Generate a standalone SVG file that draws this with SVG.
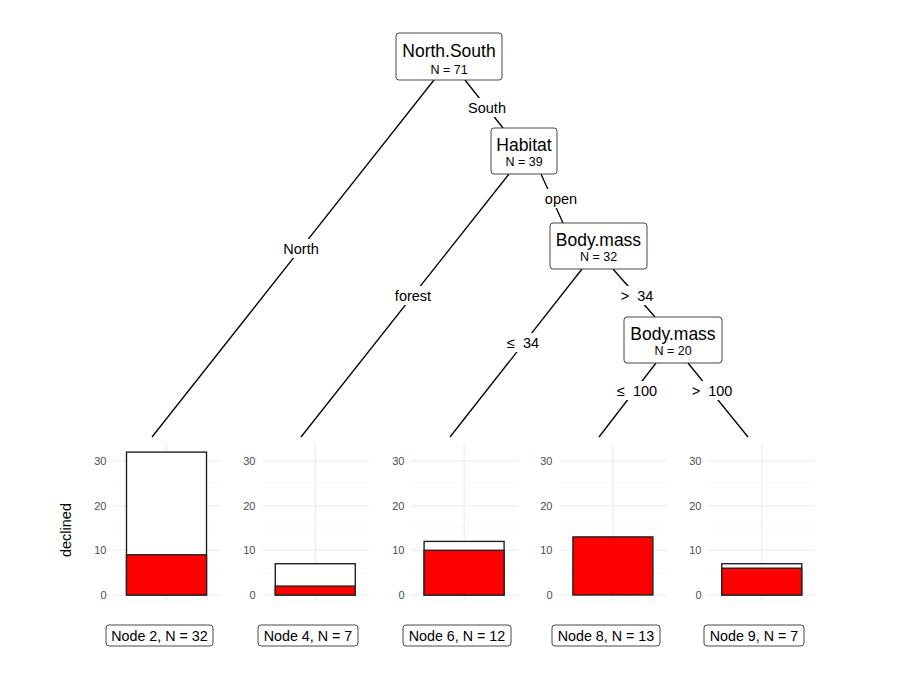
<svg xmlns="http://www.w3.org/2000/svg" width="900" height="700" viewBox="0 0 900 700">
<style>
text{font-family:"Liberation Sans",Arial,sans-serif;fill:#000}
.nb{fill:#fff;stroke:#333;stroke-width:0.9}
.t1{font-size:17.5px;text-anchor:middle}
.t2{font-size:12.5px;text-anchor:middle}
.el{font-size:14.5px;text-anchor:middle;white-space:pre}
.lb{fill:#fff}
.e{stroke:#000;stroke-width:1.3;fill:none}
.gM{stroke:#ebebeb;stroke-width:1.1}
.gm{stroke:#f3f3f3;stroke-width:0.6}
.tk{font-size:11px;fill:#4d4d4d;text-anchor:end}
.bw{fill:#fff;stroke:#222;stroke-width:1.4}
.br{fill:#ff0000;stroke:#222;stroke-width:1.4}
.leaf{font-size:14.3px;text-anchor:middle}
</style>
<rect width="900" height="700" fill="#fff"/>
<g id="connectors">
<line class="e" x1="434" y1="80" x2="152" y2="437"/>
<line class="e" x1="465" y1="80" x2="503" y2="128"/>
<line class="e" x1="509" y1="174" x2="301" y2="437"/>
<line class="e" x1="541" y1="174" x2="563" y2="223"/>
<line class="e" x1="582" y1="269" x2="450" y2="437"/>
<line class="e" x1="613" y1="269" x2="655" y2="317"/>
<line class="e" x1="656" y1="363" x2="599" y2="437"/>
<line class="e" x1="688" y1="363" x2="748" y2="437"/>
<rect class="lb" x="278" y="239" width="46" height="19"/><text class="el" x="301" y="254">North</text>
<rect class="lb" x="464" y="98" width="46" height="19"/><text class="el" x="487" y="113">South</text>
<rect class="lb" x="390" y="286" width="46" height="19"/><text class="el" x="413" y="301">forest</text>
<rect class="lb" x="541" y="189" width="40" height="19"/><text class="el" x="561" y="204">open</text>
<rect class="lb" x="503" y="333" width="40" height="19"/><text class="el" x="523" y="348">≤  34</text>
<rect class="lb" x="617" y="286" width="40" height="19"/><text class="el" x="637" y="301">&gt;  34</text>
<rect class="lb" x="612" y="381" width="50" height="19"/><text class="el" x="637" y="396">≤  100</text>
<rect class="lb" x="687" y="381" width="50" height="19"/><text class="el" x="712" y="396">&gt;  100</text>
</g>
<g id="node1"><rect class="nb" x="396" y="33" width="106" height="47" rx="3"/><text class="t1" x="449" y="56.5">North.South</text><text class="t2" x="449" y="73.5">N = 71</text></g>
<g id="node3"><rect class="nb" x="491" y="128" width="66" height="46" rx="3"/><text class="t1" x="524" y="150.5">Habitat</text><text class="t2" x="524" y="166">N = 39</text></g>
<g id="node5"><rect class="nb" x="550" y="223" width="97" height="46" rx="3"/><text class="t1" x="598.5" y="246">Body.mass</text><text class="t2" x="598.5" y="261">N = 32</text></g>
<g id="node7"><rect class="nb" x="624" y="317" width="98" height="46" rx="3"/><text class="t1" x="673" y="339.5">Body.mass</text><text class="t2" x="673" y="355">N = 20</text></g>
<text x="71" y="530" font-size="14.5" text-anchor="middle" transform="rotate(-90 71 530)">declined</text>
<g id="leaf2">
<line class="gm" x1="113" x2="220" y1="572.7" y2="572.7"/><line class="gm" x1="113" x2="220" y1="528" y2="528"/><line class="gm" x1="113" x2="220" y1="483.3" y2="483.3"/>
<line class="gM" x1="113" x2="220" y1="595" y2="595"/><line class="gM" x1="113" x2="220" y1="550.3" y2="550.3"/><line class="gM" x1="113" x2="220" y1="505.7" y2="505.7"/><line class="gM" x1="113" x2="220" y1="461" y2="461"/>
<line class="gM" x1="166.5" x2="166.5" y1="444" y2="602"/>
<text class="tk" x="106.5" y="599">0</text><text class="tk" x="106.5" y="554.3">10</text><text class="tk" x="106.5" y="509.7">20</text><text class="tk" x="106.5" y="465">30</text>
<rect class="bw" x="126.5" y="452.1" width="80" height="142.9"/><rect class="br" x="126.5" y="554.8" width="80" height="40.2"/>
<rect class="nb" x="106" y="625" width="107" height="21" rx="3"/><text class="leaf" x="159.5" y="641">Node 2, N = 32</text>
</g>
<g id="leaf4">
<line class="gm" x1="262" x2="369" y1="572.7" y2="572.7"/><line class="gm" x1="262" x2="369" y1="528" y2="528"/><line class="gm" x1="262" x2="369" y1="483.3" y2="483.3"/>
<line class="gM" x1="262" x2="369" y1="595" y2="595"/><line class="gM" x1="262" x2="369" y1="550.3" y2="550.3"/><line class="gM" x1="262" x2="369" y1="505.7" y2="505.7"/><line class="gM" x1="262" x2="369" y1="461" y2="461"/>
<line class="gM" x1="315.3" x2="315.3" y1="444" y2="602"/>
<text class="tk" x="255.5" y="599">0</text><text class="tk" x="255.5" y="554.3">10</text><text class="tk" x="255.5" y="509.7">20</text><text class="tk" x="255.5" y="465">30</text>
<rect class="bw" x="275.3" y="563.7" width="80" height="31.3"/><rect class="br" x="275.3" y="586.1" width="80" height="8.9"/>
<rect class="nb" x="258" y="625" width="100" height="21" rx="3"/><text class="leaf" x="308" y="641">Node 4, N = 7</text>
</g>
<g id="leaf6">
<line class="gm" x1="411" x2="518" y1="572.7" y2="572.7"/><line class="gm" x1="411" x2="518" y1="528" y2="528"/><line class="gm" x1="411" x2="518" y1="483.3" y2="483.3"/>
<line class="gM" x1="411" x2="518" y1="595" y2="595"/><line class="gM" x1="411" x2="518" y1="550.3" y2="550.3"/><line class="gM" x1="411" x2="518" y1="505.7" y2="505.7"/><line class="gM" x1="411" x2="518" y1="461" y2="461"/>
<line class="gM" x1="464.1" x2="464.1" y1="444" y2="602"/>
<text class="tk" x="404.5" y="599">0</text><text class="tk" x="404.5" y="554.3">10</text><text class="tk" x="404.5" y="509.7">20</text><text class="tk" x="404.5" y="465">30</text>
<rect class="bw" x="424.1" y="541.4" width="80" height="53.6"/><rect class="br" x="424.1" y="550.3" width="80" height="44.7"/>
<rect class="nb" x="403" y="625" width="108" height="21" rx="3"/><text class="leaf" x="457" y="641">Node 6, N = 12</text>
</g>
<g id="leaf8">
<line class="gm" x1="560" x2="667" y1="572.7" y2="572.7"/><line class="gm" x1="560" x2="667" y1="528" y2="528"/><line class="gm" x1="560" x2="667" y1="483.3" y2="483.3"/>
<line class="gM" x1="560" x2="667" y1="595" y2="595"/><line class="gM" x1="560" x2="667" y1="550.3" y2="550.3"/><line class="gM" x1="560" x2="667" y1="505.7" y2="505.7"/><line class="gM" x1="560" x2="667" y1="461" y2="461"/>
<line class="gM" x1="612.9" x2="612.9" y1="444" y2="602"/>
<text class="tk" x="552.5" y="599">0</text><text class="tk" x="552.5" y="554.3">10</text><text class="tk" x="552.5" y="509.7">20</text><text class="tk" x="552.5" y="465">30</text>
<rect class="br" x="572.9" y="536.9" width="80" height="58.1"/>
<rect class="nb" x="552" y="625" width="108" height="21" rx="3"/><text class="leaf" x="606" y="641">Node 8, N = 13</text>
</g>
<g id="leaf9">
<line class="gm" x1="708" x2="815" y1="572.7" y2="572.7"/><line class="gm" x1="708" x2="815" y1="528" y2="528"/><line class="gm" x1="708" x2="815" y1="483.3" y2="483.3"/>
<line class="gM" x1="708" x2="815" y1="595" y2="595"/><line class="gM" x1="708" x2="815" y1="550.3" y2="550.3"/><line class="gM" x1="708" x2="815" y1="505.7" y2="505.7"/><line class="gM" x1="708" x2="815" y1="461" y2="461"/>
<line class="gM" x1="761.7" x2="761.7" y1="444" y2="602"/>
<text class="tk" x="701.5" y="599">0</text><text class="tk" x="701.5" y="554.3">10</text><text class="tk" x="701.5" y="509.7">20</text><text class="tk" x="701.5" y="465">30</text>
<rect class="bw" x="721.7" y="563.7" width="80" height="31.3"/><rect class="br" x="721.7" y="568.2" width="80" height="26.8"/>
<rect class="nb" x="704" y="625" width="100" height="21" rx="3"/><text class="leaf" x="754" y="641">Node 9, N = 7</text>
</g>
</svg>
